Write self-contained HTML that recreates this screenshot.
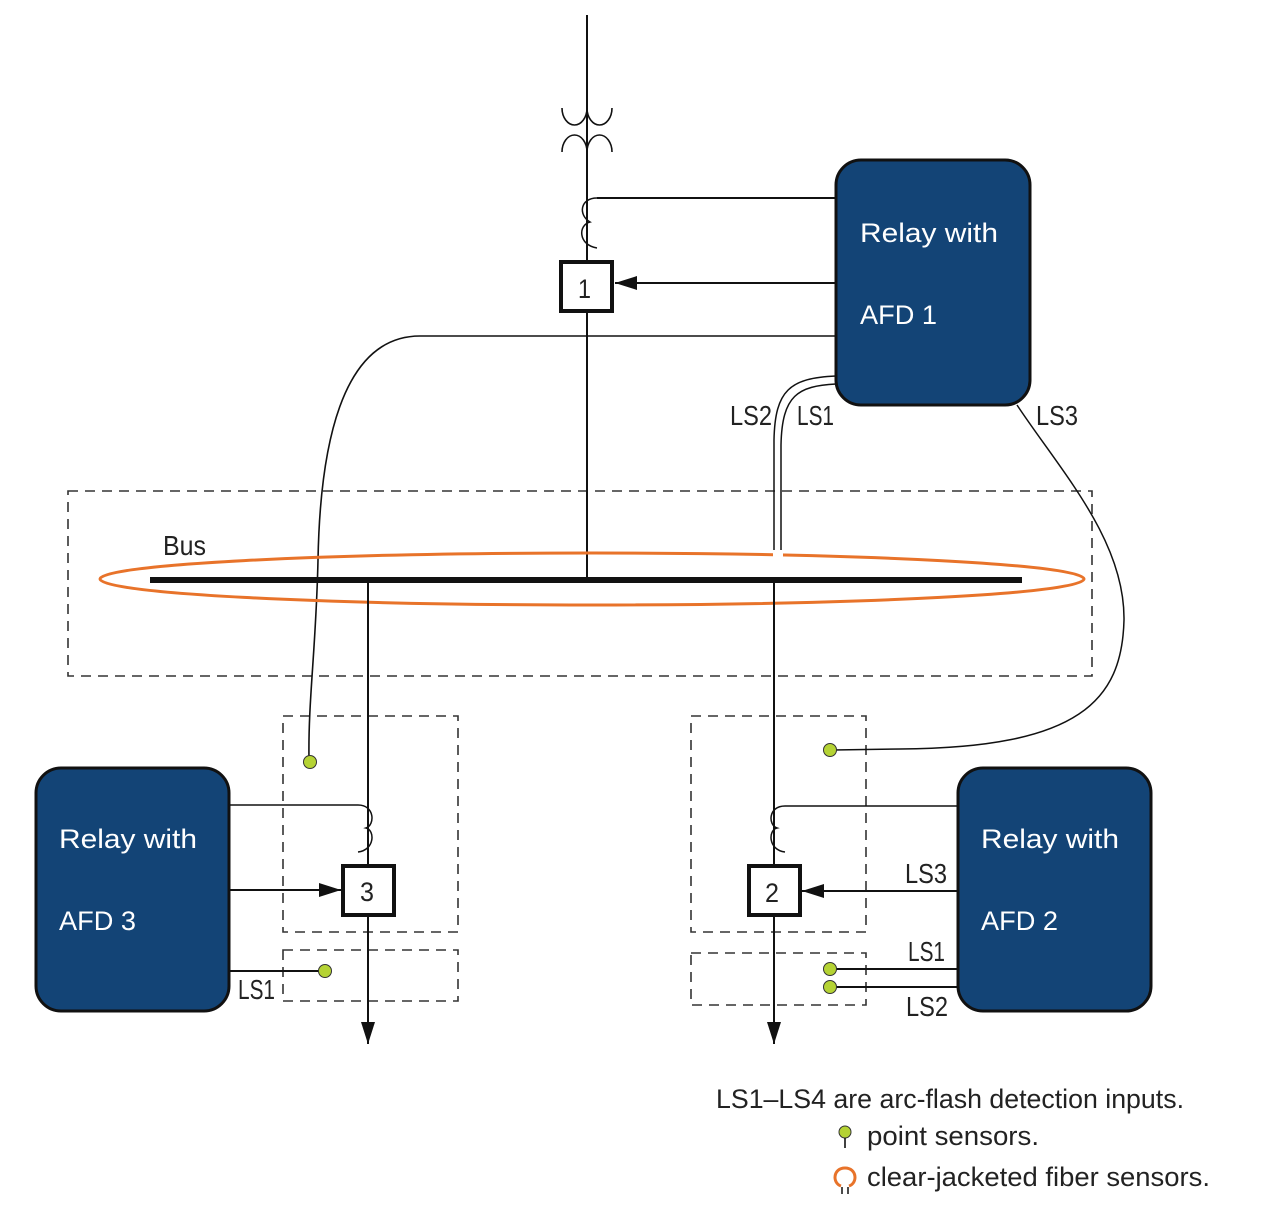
<!DOCTYPE html>
<html><head><meta charset="utf-8"><style>
html,body{margin:0;padding:0;background:#fff;}
svg{display:block;}
text{font-family:"Liberation Sans Narrow","Liberation Sans",sans-serif;}
</style></head><body>
<svg width="1275" height="1225" viewBox="0 0 1275 1225" xmlns="http://www.w3.org/2000/svg">
<defs>
<marker id="ar" markerWidth="24" markerHeight="16" refX="22" refY="8" orient="auto" markerUnits="userSpaceOnUse" viewBox="0 0 24 16">
<path d="M0,1 L22,8 L0,15 Z" fill="#111"/>
</marker>
</defs>
<g fill="none" stroke="#111" stroke-width="2">
<rect x="68" y="491" width="1024" height="185" stroke="#333" stroke-width="1.6" stroke-dasharray="10,7"/>
<rect x="283" y="716" width="175" height="216" stroke="#333" stroke-width="1.6" stroke-dasharray="10,7"/>
<rect x="283" y="950" width="175" height="51" stroke="#333" stroke-width="1.6" stroke-dasharray="10,7"/>
<rect x="691" y="716" width="175" height="216" stroke="#333" stroke-width="1.6" stroke-dasharray="10,7"/>
<rect x="691" y="953" width="175" height="52" stroke="#333" stroke-width="1.6" stroke-dasharray="10,7"/>

<line x1="587" y1="15" x2="587" y2="578"/>
<path d="M562,108 A12.5,17 0 0 0 587,108 A12.5,17 0 0 0 612,108" stroke-width="1.6"/>
<path d="M562,152 A12.5,17 0 0 1 587,152 A12.5,17 0 0 1 612,152" stroke-width="1.6"/>
<path d="M597,198 C580,198 578,215 590,222 C578,225 578,245 597,248" stroke-width="1.5"/>
<line x1="597" y1="198" x2="836" y2="198"/>
<rect x="561" y="262" width="51" height="49" fill="#fff" stroke-width="4"/>
<line x1="836" y1="283" x2="615" y2="283" marker-end="url(#ar)"/>
<path d="M836,336 L420,336 C340,336 320,450 318,560 C316,650 308,700 309,760" stroke-width="1.6"/>
<path d="M836,376 C790,378 775,390 774,440 L774,553" stroke-width="1.5"/>
<path d="M836,384 C798,386 782,395 781,445 L781,553" stroke-width="1.5"/>
<path d="M1017,405 C1060,470 1125,540 1124,620 C1122,700 1080,748 900,749 L833,750" stroke-width="1.5"/>
</g>
<ellipse cx="592" cy="579" rx="492" ry="26" fill="none" stroke="#e8732a" stroke-width="3"/>
<rect x="773" y="550" width="10" height="8" fill="#fff"/>
<line x1="150" y1="580" x2="1022" y2="580" stroke="#111" stroke-width="6"/>
<g fill="none" stroke="#111" stroke-width="2">
<line x1="368" y1="580" x2="368" y2="1044" marker-end="url(#ar)"/>
<line x1="774" y1="580" x2="774" y2="1044" marker-end="url(#ar)"/>
<path d="M229,805 L358,805 C375,805 375,825 366,828 C375,830 375,850 358,852" stroke-width="1.5"/>
<rect x="343" y="866" width="51" height="49" fill="#fff" stroke-width="4"/>
<line x1="229" y1="890" x2="341" y2="890" marker-end="url(#ar)"/>
<line x1="229" y1="971" x2="322" y2="971"/>
<path d="M958,806 L785,806 C768,806 768,825 777,828 C768,830 768,850 785,852" stroke-width="1.5"/>
<rect x="749" y="866" width="51" height="49" fill="#fff" stroke-width="4"/>
<line x1="958" y1="891" x2="802" y2="891" marker-end="url(#ar)"/>
<line x1="958" y1="969" x2="832" y2="969"/>
<line x1="958" y1="987" x2="832" y2="987"/>
</g>
<g fill="#b5d334" stroke="#333" stroke-width="1">
<circle cx="310" cy="762" r="6.5"/>
<circle cx="830" cy="750" r="6.5"/>
<circle cx="325" cy="971" r="6.5"/>
<circle cx="830" cy="969" r="6.5"/>
<circle cx="830" cy="987" r="6.5"/>
<circle cx="845" cy="1132" r="6"/>
</g>
<line x1="845" y1="1138" x2="845" y2="1148" stroke="#111" stroke-width="1.6"/>
<path d="M841,1186 C832,1183 833,1168 845,1168 C857,1168 858,1183 849,1186" fill="none" stroke="#e8732a" stroke-width="3"/>
<line x1="842" y1="1187" x2="842" y2="1194" stroke="#111" stroke-width="1.5"/>
<line x1="848" y1="1187" x2="848" y2="1194" stroke="#111" stroke-width="1.5"/>
<g fill="#134476" stroke="#111" stroke-width="3">
<rect x="836" y="160" width="194" height="245" rx="25"/>
<rect x="36" y="768" width="193" height="243" rx="25"/>
<rect x="958" y="768" width="193" height="243" rx="25"/>
</g>
<g fill="#fff" font-size="27">
<text x="860" y="242" textLength="138" lengthAdjust="spacingAndGlyphs">Relay with</text>
<text x="860" y="324" textLength="77" lengthAdjust="spacingAndGlyphs">AFD 1</text>
<text x="59" y="848" textLength="138" lengthAdjust="spacingAndGlyphs">Relay with</text>
<text x="59" y="930" textLength="77" lengthAdjust="spacingAndGlyphs">AFD 3</text>
<text x="981" y="848" textLength="138" lengthAdjust="spacingAndGlyphs">Relay with</text>
<text x="981" y="930" textLength="77" lengthAdjust="spacingAndGlyphs">AFD 2</text>
</g>
<g fill="#222" font-size="28">
<text x="578" y="298" font-size="27" textLength="13" lengthAdjust="spacingAndGlyphs">1</text>
<text x="360" y="901" font-size="27" textLength="14" lengthAdjust="spacingAndGlyphs">3</text>
<text x="765" y="902" font-size="27" textLength="14" lengthAdjust="spacingAndGlyphs">2</text>
<text x="163" y="555" textLength="43" lengthAdjust="spacingAndGlyphs">Bus</text>
<text x="730" y="425" textLength="42" lengthAdjust="spacingAndGlyphs">LS2</text>
<text x="797" y="425" textLength="37" lengthAdjust="spacingAndGlyphs">LS1</text>
<text x="1036" y="425" textLength="42" lengthAdjust="spacingAndGlyphs">LS3</text>
<text x="238" y="999" textLength="37" lengthAdjust="spacingAndGlyphs">LS1</text>
<text x="905" y="883" textLength="42" lengthAdjust="spacingAndGlyphs">LS3</text>
<text x="908" y="961" textLength="37" lengthAdjust="spacingAndGlyphs">LS1</text>
<text x="906" y="1016" textLength="42" lengthAdjust="spacingAndGlyphs">LS2</text>
<text x="716" y="1108" font-size="27" textLength="468" lengthAdjust="spacingAndGlyphs">LS1–LS4 are arc-flash detection inputs.</text>
<text x="867" y="1145" font-size="27" textLength="172" lengthAdjust="spacingAndGlyphs">point sensors.</text>
<text x="867" y="1186" font-size="27" textLength="343" lengthAdjust="spacingAndGlyphs">clear-jacketed fiber sensors.</text>
</g>
</svg>
</body></html>
